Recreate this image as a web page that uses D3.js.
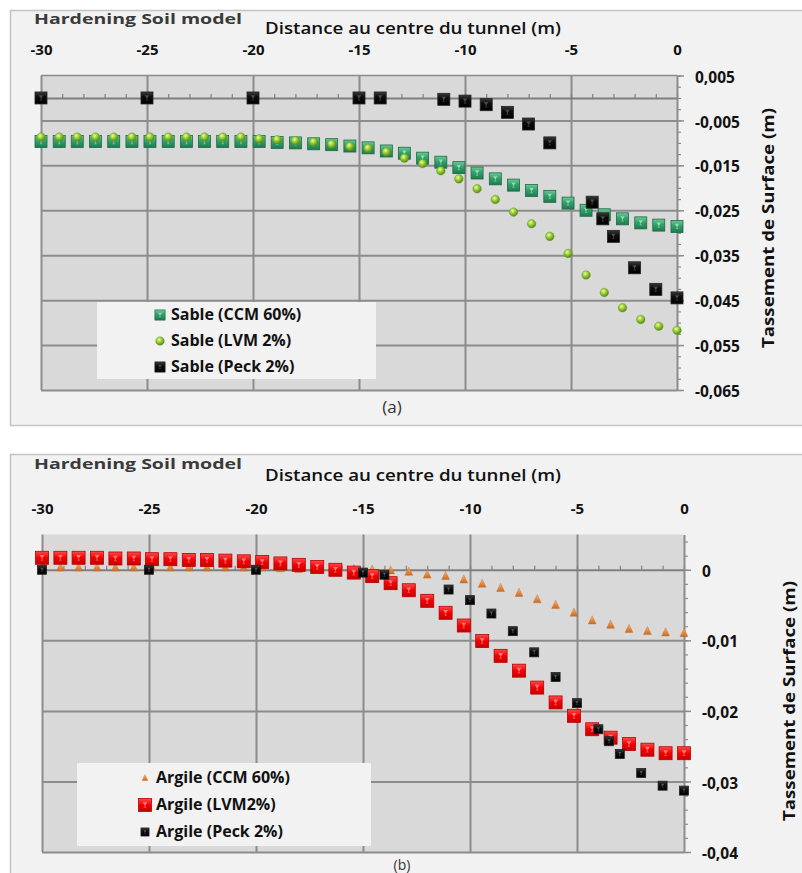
<!DOCTYPE html>
<html>
<head>
<meta charset="utf-8">
<script src="https://cdn.jsdelivr.net/npm/d3@7"></script>
<style>
  body { margin: 0; background: #ffffff; }
  text { font-family: "Open Sans", "Noto Sans", sans-serif; }
</style>
</head>
<body>
<svg id="chart" width="802" height="873"></svg>
<script>
// Surface nodes of the FE mesh, distance to the tunnel axis (m)
const nodeX = [-30, -29.14, -28.29, -27.43, -26.57, -25.71, -24.86, -24, -23.14, -22.29,
  -21.43, -20.57, -19.71, -18.86, -18, -17.14, -16.29, -15.43, -14.57, -13.71,
  -12.86, -12, -11.14, -10.29, -9.43, -8.57, -7.71, -6.86, -6, -5.14,
  -4.29, -3.43, -2.57, -1.71, -0.86, 0];

// (a) Sand — surface settlement (m)
const sableCCM = [-0.0097, -0.0097, -0.0097, -0.0097, -0.0097, -0.0097, -0.0097, -0.0097, -0.0097, -0.0097,
  -0.0097, -0.0097, -0.0097, -0.0099, -0.0100, -0.0102, -0.0104, -0.0107, -0.0111, -0.0118,
  -0.0123, -0.0134, -0.0143, -0.0155, -0.0167, -0.0180, -0.0194, -0.0206, -0.0219, -0.0234,
  -0.0250, -0.0260, -0.0269, -0.0278, -0.0283, -0.0286];
const sableLVM = [-0.0087, -0.0087, -0.0087, -0.0087, -0.0087, -0.0087, -0.0087, -0.0087, -0.0087, -0.0087,
  -0.0087, -0.0087, -0.0091, -0.0093, -0.0095, -0.0098, -0.0103, -0.0108, -0.0112, -0.0120,
  -0.0134, -0.0146, -0.0162, -0.0180, -0.0202, -0.0226, -0.0254, -0.0280, -0.0308, -0.0346,
  -0.0394, -0.0433, -0.0467, -0.0493, -0.0508, -0.0517];
const peckXa = [-30, -25, -20, -15, -14, -11, -10, -9, -8, -7, -6, -4, -3.5, -3, -2, -1, 0];
const sablePeck = [0, 0, 0, 0, 0, -0.0003, -0.0007, -0.0015, -0.0032, -0.0058, -0.0100,
  -0.0232, -0.0269, -0.0308, -0.0378, -0.0426, -0.0445];

// (b) Clay — surface settlement (m)
const argileCCM = [0.0003, 0.0003, 0.0003, 0.0003, 0.0003, 0.0003, 0.0003, 0.0003, 0.0003, 0.0003,
  0.0003, 0.0003, 0.0003, 0.0002, 0.0001, 0.0001, 0.0001, 0.0001, 0.0000, -0.0001,
  -0.0003, -0.0007, -0.0009, -0.0014, -0.0020, -0.0026, -0.0033, -0.0042, -0.0050, -0.0061,
  -0.0072, -0.0078, -0.0084, -0.0087, -0.0089, -0.0090];
const argileLVM = [0.0017, 0.0017, 0.0017, 0.0017, 0.0016, 0.0016, 0.0015, 0.0015, 0.0014, 0.0014,
  0.0013, 0.0012, 0.0011, 0.0009, 0.0007, 0.0004, 0.0000, -0.0004, -0.0009, -0.0019,
  -0.0029, -0.0044, -0.0061, -0.0079, -0.0101, -0.0122, -0.0143, -0.0167, -0.0188, -0.0207,
  -0.0226, -0.0238, -0.0247, -0.0255, -0.0260, -0.0260];
const peckXb = [-30, -25, -20, -15, -14, -11, -10, -9, -8, -7, -6, -5, -4, -3.5, -3, -2, -1, 0];
const argilePeck = [0, 0, 0, -0.0004, -0.0007, -0.0028, -0.0043, -0.0062, -0.0087, -0.0117, -0.0152,
  -0.0189, -0.0226, -0.0243, -0.0261, -0.0288, -0.0306, -0.0313];

// Axis ticks
const xMajor = [-30, -25, -20, -15, -10, -5, 0];
const xMinor = d3.range(-30, 1, 1);
const yMajorA = [0.005, -0.005, -0.015, -0.025, -0.035, -0.045, -0.055, -0.065];
const yMajorB = [0, -0.01, -0.02, -0.03, -0.04];

const legendA = ["Sable (CCM 60%)", "Sable (LVM 2%)", "Sable (Peck 2%)"];
const legendB = ["Argile (CCM 60%)", "Argile (LVM2%)", "Argile (Peck 2%)"];

const svg = d3.select("#chart");
const fmtY = d => d3.format(".3~f")(d).replace(".", ",").replace("−", "-");
const fmtX = d => String(d);

// ---------- gradients for the bevelled markers ----------
const defs = svg.append("defs");
function linGrad(id, stops) {
  const g = defs.append("linearGradient").attr("id", id).attr("x1", 0).attr("y1", 0).attr("x2", 0).attr("y2", 1);
  stops.forEach(([o, c]) => g.append("stop").attr("offset", o).attr("stop-color", c));
}
linGrad("gGreen", [[0, "#6cc995"], [0.45, "#34a06c"], [1, "#1f7a4e"]]);
linGrad("gRed", [[0, "#ff4a4a"], [0.5, "#f20000"], [1, "#c80000"]]);
linGrad("gBlack", [[0, "#3a3a3a"], [0.4, "#0d0d0d"], [1, "#000000"]]);
linGrad("gOrange", [[0, "#f6be8a"], [0.5, "#e68c40"], [1, "#c96a20"]]);
const rg = defs.append("radialGradient").attr("id", "gBall").attr("cx", "40%").attr("cy", "35%").attr("r", "65%");
[[0, "#eaffa0"], [0.45, "#9ccd3c"], [1, "#4f8a14"]].forEach(([o, c]) => rg.append("stop").attr("offset", o).attr("stop-color", c));

// ---------- marker painters ----------
function squareMarker(g, s, fill, stroke, inner) {
  const h = s / 2;
  g.append("rect").attr("x", -h).attr("y", -h).attr("width", s).attr("height", s)
    .attr("fill", fill).attr("stroke", stroke).attr("stroke-width", 0.8);
  g.append("path").attr("d", `M${-s * 0.18},${-s * 0.22}L${s * 0.18},${-s * 0.22}L0,${s * 0.08}Z`).attr("fill", inner);
  g.append("path").attr("d", `M${-s * 0.12},${s * 0.22}L${s * 0.12},${s * 0.22}L0,${s * 0.02}Z`).attr("fill", inner).attr("opacity", 0.6);
}
const painters = {
  green: g => squareMarker(g, 12, "url(#gGreen)", "#1b6a44", "#8fdcb0"),
  ball: g => g.append("circle").attr("r", 4.3).attr("fill", "url(#gBall)").attr("stroke", "#5d9a1c").attr("stroke-width", 0.4),
  blackA: g => squareMarker(g, 12, "url(#gBlack)", "#222", "#4a4a4a"),
  red: g => squareMarker(g, 13, "url(#gRed)", "#b80000", "#ff7a7a"),
  blackB: g => squareMarker(g, 9, "url(#gBlack)", "#222", "#555"),
  tri: g => g.append("path").attr("d", "M0,-4.8L3.9,3.4L-3.9,3.4Z").attr("fill", "url(#gOrange)").attr("stroke", "#c06a28").attr("stroke-width", 0.4)
};

function drawSeries(root, xs, ys, x, y, kind) {
  root.append("g").selectAll("g").data(xs.map((d, i) => [d, ys[i]])).join("g")
    .attr("transform", d => `translate(${x(d[0])},${y(d[1])})`)
    .each(function () { painters[kind](d3.select(this)); });
}

// ---------- one panel ----------
function panel(cfg) {
  const { frameY, frameH, x, y, yTicks, yMinorStep, gridY, topLine, legend, legendBox, series, tag, labelRow, titleY, modelY, yLabX, yTitleX, yTitleY } = cfg;
  const g = svg.append("g");
  const [x0, x1] = x.range();
  const [yb, yt] = y.range();

  g.append("rect").attr("x", 10.5).attr("y", frameY + 0.5).attr("width", 800).attr("height", frameH)
    .attr("fill", "#f2f2f2").attr("stroke", "#c4c4c4").attr("stroke-width", 1.5);

  g.append("rect").attr("x", x0).attr("y", yt).attr("width", x1 - x0).attr("height", yb - yt).attr("fill", "#d9d9d9");

  // vertical gridlines
  g.append("g").attr("transform", `translate(0,${yb})`)
    .call(d3.axisBottom(x).tickValues(xMajor.slice(0, -1)).tickSize(-(yb - yt)).tickFormat(""))
    .call(a => a.select(".domain").remove())
    .call(a => a.selectAll("line").attr("stroke", "#8c8c8c").attr("stroke-width", 2));
  // horizontal gridlines
  g.append("g").attr("transform", `translate(${x0},0)`)
    .call(d3.axisLeft(y).tickValues(gridY).tickSize(-(x1 - x0)).tickFormat(""))
    .call(a => a.select(".domain").remove())
    .call(a => a.selectAll("line").attr("stroke", "#8c8c8c").attr("stroke-width", 2));
  if (topLine) g.append("line").attr("x1", x0).attr("x2", x1).attr("y1", yt).attr("y2", yt).attr("stroke", "#8c8c8c").attr("stroke-width", 1.5);

  // horizontal axis through zero with minor ticks
  g.append("g").attr("transform", `translate(0,${y(0)})`)
    .call(d3.axisTop(x).tickValues(xMinor).tickSize(4).tickFormat("").tickSizeOuter(0))
    .call(a => a.select(".domain").attr("stroke", "#7f7f7f").attr("stroke-width", 2))
    .call(a => a.selectAll(".tick line").attr("stroke", "#7f7f7f").attr("stroke-width", 1.2));

  // right vertical axis
  const yMinor = d3.range(y.domain()[0], y.domain()[1] + 1e-9, yMinorStep);
  g.append("g").attr("transform", `translate(${x1},0)`)
    .call(d3.axisRight(y).tickValues(yMinor).tickSize(4).tickFormat("").tickSizeOuter(0))
    .call(a => a.select(".domain").attr("stroke", "#8c8c8c").attr("stroke-width", 2))
    .call(a => a.selectAll(".tick line").attr("stroke", "#8c8c8c").attr("stroke-width", 1.2));
  g.append("g").attr("transform", `translate(${x1},0)`)
    .call(d3.axisRight(y).tickValues(yTicks).tickSize(7).tickFormat(""))
    .call(a => a.select(".domain").remove())
    .call(a => a.selectAll(".tick line").attr("stroke", "#8c8c8c").attr("stroke-width", 1.5));

  // y tick labels
  g.append("g").selectAll("text").data(yTicks).join("text")
    .attr("x", yLabX).attr("y", d => y(d) + 3).attr("dominant-baseline", "middle")
    .attr("font-size", 15.5).attr("font-weight", 700).attr("fill", "#111").text(fmtY);

  // x tick labels along the top (labelRow is the baseline)
  g.append("g").attr("transform", `translate(0,${labelRow})`)
    .call(d3.axisTop(x).tickValues(xMajor).tickSize(0).tickPadding(0).tickFormat(fmtX))
    .call(a => a.select(".domain").remove())
    .call(a => a.selectAll("text").attr("font-size", 15).attr("font-weight", 700).attr("fill", "#111")
      .attr("font-family", "\"Open Sans\", sans-serif").attr("dy", "0em"));

  // titles (titleY is the baseline)
  g.append("text").attr("x", 413).attr("y", titleY).attr("text-anchor", "middle")
    .attr("font-size", 16).attr("font-weight", 600).attr("fill", "#111")
    .attr("textLength", 296).attr("lengthAdjust", "spacingAndGlyphs")
    .text("Distance au centre du tunnel (m)");
  g.append("text").attr("x", 34).attr("y", modelY).attr("dominant-baseline", "middle")
    .attr("font-family", "\"DejaVu Sans\", sans-serif").attr("font-size", 14.5).attr("font-weight", 700).attr("fill", "#3a3a3a")
    .attr("textLength", 208).attr("lengthAdjust", "spacingAndGlyphs")
    .text("Hardening Soil model");
  g.append("text").attr("transform", `translate(${yTitleX},${yTitleY}) rotate(-90)`)
    .attr("text-anchor", "middle").attr("dominant-baseline", "middle")
    .attr("font-size", 16.5).attr("font-weight", 700).attr("fill", "#111")
    .attr("textLength", 240).attr("lengthAdjust", "spacingAndGlyphs")
    .text("Tassement de Surface  (m)");
  g.append("text").attr("x", tag.x).attr("y", tag.y).attr("text-anchor", "middle").attr("dominant-baseline", "middle")
    .attr("font-family", "\"DejaVu Sans\", sans-serif").attr("font-size", tag.size).attr("fill", "#333").text(tag.text);

  // data
  series.forEach(s => drawSeries(g, s.xs, s.ys, x, y, s.kind));

  // legend
  const lg = g.append("g");
  lg.append("rect").attr("x", legendBox.x).attr("y", legendBox.y).attr("width", legendBox.w).attr("height", legendBox.h).attr("fill", "#f2f2f2");
  legend.forEach((name, i) => {
    const row = lg.append("g").attr("transform", `translate(${legendBox.mx},${legendBox.rows[i]})`);
    const m = row.append("g").attr("transform", `scale(${legendBox.ms[i]})`);
    painters[series[i].kind](m);
    row.append("text").attr("x", legendBox.tx - legendBox.mx).attr("y", 1).attr("dominant-baseline", "middle")
      .attr("font-size", 16).attr("font-weight", 700).attr("fill", "#111").text(name);
  });
}

// (a) Sand
panel({
  frameY: 10, frameH: 415,
  x: d3.scaleLinear().domain([-30, 0]).range([41, 677]),
  y: d3.scaleLinear().domain([-0.065, 0.005]).range([390, 75.5]),
  yTicks: yMajorA, yMinorStep: 0.0025,
  gridY: yMajorA.slice(1), topLine: true,
  labelRow: 55, titleY: 34, modelY: 20, yLabX: 695, yTitleX: 770, yTitleY: 228,
  tag: { text: "(a)", x: 392, y: 408, size: 17 },
  legend: legendA,
  legendBox: { x: 97, y: 302, w: 279, h: 77, mx: 160, tx: 171, rows: [315, 341, 367], ms: [0.85, 1, 0.85] },
  series: [
    { xs: nodeX, ys: sableCCM, kind: "green" },
    { xs: nodeX, ys: sableLVM, kind: "ball" },
    { xs: peckXa, ys: sablePeck, kind: "blackA" }
  ]
});

// (b) Clay
panel({
  frameY: 454, frameH: 440,
  x: d3.scaleLinear().domain([-30, 0]).range([42, 684]),
  y: d3.scaleLinear().domain([-0.04, 0.005]).range([852, 534.5]),
  yTicks: yMajorB, yMinorStep: 0.002,
  gridY: yMajorB.slice(1), topLine: false,
  labelRow: 514, titleY: 481, modelY: 465, yLabX: 702, yTitleX: 791, yTitleY: 701,
  tag: { text: "(b)", x: 402, y: 866, size: 14 },
  legend: legendB,
  legendBox: { x: 77, y: 763, w: 294, h: 83, mx: 145, tx: 156, rows: [778, 805, 832], ms: [0.75, 1, 0.9] },
  series: [
    { xs: nodeX, ys: argileCCM, kind: "tri" },
    { xs: nodeX, ys: argileLVM, kind: "red" },
    { xs: peckXb, ys: argilePeck, kind: "blackB" }
  ]
});
</script>
</body>
</html>
